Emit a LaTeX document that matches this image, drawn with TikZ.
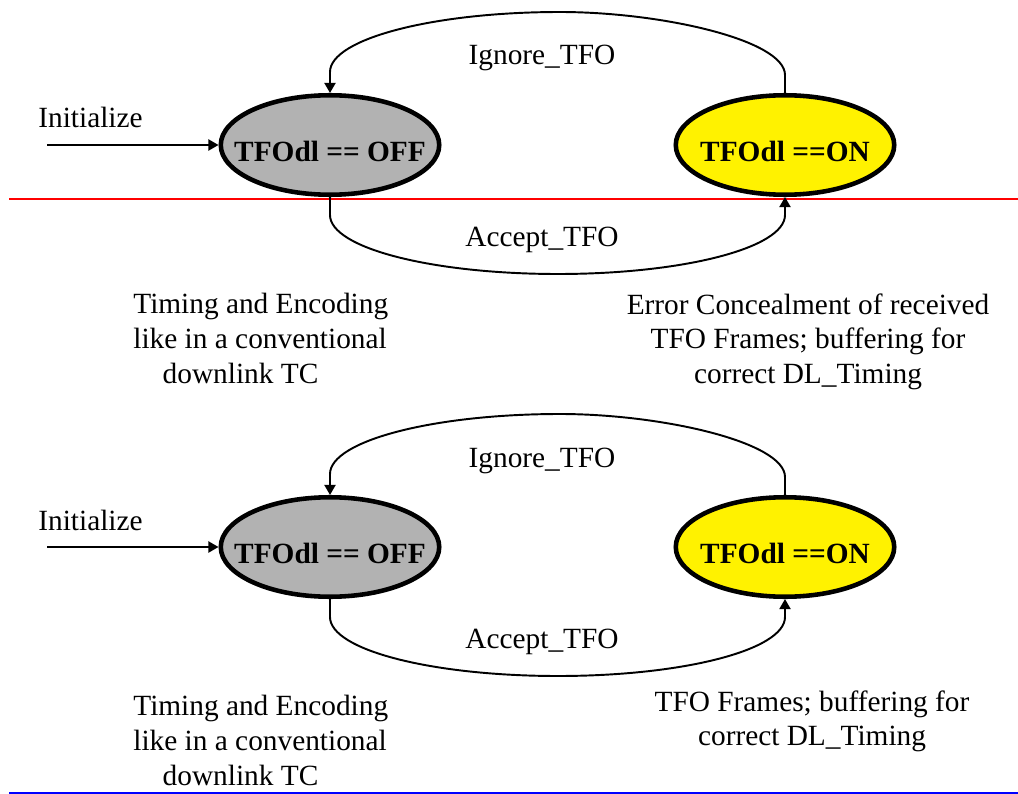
\documentclass[tikz,border=0pt]{standalone}
\usepackage{fontspec}
\setmainfont{Liberation Serif}
\usetikzlibrary{shapes.geometric,arrows.meta}

\begin{document}
\begin{tikzpicture}[x=0.02cm,y=-0.02cm,font=\fontsize{16.7}{19.9}\selectfont,>={Triangle[length=0.2cm,width=0.22cm]},
  tfostate/.style={ellipse,draw,line width=2.6pt,minimum width=4.37cm,minimum height=1.99cm,inner sep=0pt,
    font=\fontsize{16.7}{19.9}\selectfont\bfseries},
  trans/.style={->,line width=1.1pt},
  note/.style={inner sep=0pt,anchor=north}]
\useasboundingbox (0,0) rectangle (1018,794);
\draw[red,line width=0.6pt] (9,199) -- (1018,199);
\draw[blue,line width=1pt] (9,793) -- (1018,793);
% upper diagram
\node[tfostate,fill=black!30] (off1) at (330,145) {\raisebox{-0.33cm}[0pt][0pt]{\makebox[0pt]{TFOdl == OFF}}};
\node[tfostate,fill=yellow] (on1) at (785,145) {\raisebox{-0.33cm}[0pt][0pt]{\makebox[0pt]{TFOdl ==ON}}};
\node[anchor=base west,inner sep=0pt] (init1) at (38,128) {Initialize};
\coordinate (start1) at (47,145);
\draw[trans] (start1) -- (off1);
\draw[trans] (on1.north) -- (785,75) .. controls (785,40) and (661,12) .. (560,12) .. controls (433,12) and (330,39) .. (330,72) -- (off1.north);
\node[anchor=base] (ign1) at (542,65) {Ignore\_TFO};
\draw[trans] (off1.south) -- (330,215) .. controls (330,248) and (432,274) .. (558,274) .. controls (683,274) and (785,248) .. (785,215) -- (on1.south);
\node[anchor=base] (acc1) at (542,246) {Accept\_TFO};
\node[note,anchor=north west,align=left] (offnote1) at (133,293) {Timing and Encoding\\like in a conventional\\\hspace*{1em}downlink TC};
\node[note,align=center] (onnote1) at (808,293) {Error Concealment of received\\TFO Frames; buffering for\\correct DL\_Timing};
% lower diagram
\node[tfostate,fill=black!30] (off2) at (330,547) {\raisebox{-0.33cm}[0pt][0pt]{\makebox[0pt]{TFOdl == OFF}}};
\node[tfostate,fill=yellow] (on2) at (785,547) {\raisebox{-0.33cm}[0pt][0pt]{\makebox[0pt]{TFOdl ==ON}}};
\node[anchor=base west,inner sep=0pt] (init2) at (38,530) {Initialize};
\coordinate (start2) at (47,547);
\draw[trans] (start2) -- (off2);
\draw[trans] (on2.north) -- (785,477) .. controls (785,442) and (661,414) .. (560,414) .. controls (433,414) and (330,441) .. (330,474) -- (off2.north);
\node[anchor=base] (ign2) at (542,467) {Ignore\_TFO};
\draw[trans] (off2.south) -- (330,617) .. controls (330,650) and (432,676) .. (558,676) .. controls (683,676) and (785,650) .. (785,617) -- (on2.south);
\node[anchor=base] (acc2) at (542,648) {Accept\_TFO};
\node[note,anchor=north west,align=left] (offnote2) at (133,695) {Timing and Encoding\\like in a conventional\\\hspace*{1em}downlink TC};
\node[note,align=center] (onnote2) at (812,690) {TFO Frames; buffering for\\correct DL\_Timing};
\end{tikzpicture}
\end{document}
